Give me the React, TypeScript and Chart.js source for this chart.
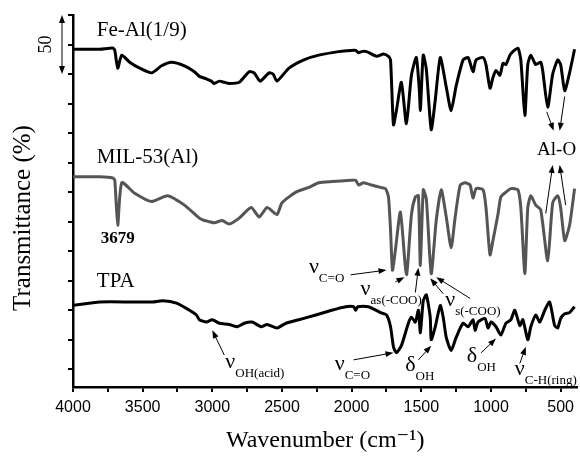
import React, { useEffect, useRef } from 'react';
import { Chart, registerables } from 'chart.js';

Chart.register(...registerables);

// ---------- data (wavenumber in cm-1, offset transmittance) ----------
const feAlWn = [4000, 3807, 3714, 3700, 3679, 3650, 3593, 3521, 3436, 3364, 3293, 3200, 3129, 3093, 3043, 3007, 2986, 2950, 2914, 2879, 2807, 2736, 2700, 2657, 2593, 2564, 2536, 2450, 2343, 2236, 2093, 2007, 1971, 1950, 1929, 1893, 1821, 1771, 1736, 1721, 1700, 1679, 1643, 1607, 1571, 1536, 1514, 1507, 1500, 1486, 1464, 1429, 1400, 1364, 1321, 1286, 1250, 1200, 1164, 1129, 1107, 1057, 1036, 1007, 986, 964, 936, 914, 893, 864, 843, 807, 786, 757, 736, 714, 679, 643, 629, 593, 557, 521, 500, 471, 436, 400];
const feAlT = [271, 271, 272, 270, 255, 266, 260, 255, 251, 257, 260, 257, 252, 248, 246, 244, 242, 244, 243, 242, 243, 252, 251, 244, 251, 250, 244, 255, 262, 266, 269, 270, 270, 268, 269, 269, 265, 267, 265, 262, 207, 219, 243, 208, 249, 264, 236, 219, 236, 266, 254, 203, 228, 264, 239, 219, 240, 262, 264, 252, 262, 264, 258, 238, 247, 253, 249, 259, 258, 266, 269, 272, 262, 215, 258, 266, 258, 260, 253, 222, 250, 262, 258, 236, 251, 271];

const milWn = [4000, 3807, 3714, 3700, 3679, 3650, 3557, 3436, 3321, 3200, 3093, 3057, 3021, 2986, 2929, 2879, 2807, 2721, 2664, 2607, 2536, 2500, 2400, 2307, 2236, 2143, 2007, 1971, 1950, 1914, 1857, 1793, 1757, 1736, 1721, 1707, 1686, 1650, 1607, 1571, 1543, 1521, 1507, 1486, 1464, 1429, 1393, 1357, 1321, 1286, 1257, 1221, 1186, 1150, 1129, 1107, 1057, 1036, 1007, 986, 950, 929, 893, 857, 807, 786, 757, 736, 714, 679, 643, 593, 557, 521, 500, 471, 436, 400];
const milT = [163, 163, 162, 160, 122, 158, 149, 142, 147, 139, 128, 126, 125, 124, 126, 123, 128, 137, 129, 137, 131, 141, 150, 154, 158, 159, 160, 160, 156, 158, 156, 154, 153, 146, 118, 84, 101, 133, 80, 131, 146, 147, 88, 152, 144, 81, 126, 152, 129, 103, 129, 156, 158, 156, 145, 153, 152, 137, 97, 109, 131, 146, 150, 153, 152, 137, 81, 137, 147, 139, 135, 92, 141, 147, 137, 109, 122, 153];

const tpaWn = [4000, 3807, 3571, 3429, 3357, 3257, 3164, 3114, 3093, 3043, 3000, 2950, 2879, 2821, 2771, 2714, 2650, 2607, 2536, 2471, 2379, 2257, 2143, 2043, 1986, 1971, 1957, 1879, 1793, 1750, 1721, 1700, 1679, 1643, 1593, 1571, 1543, 1521, 1507, 1486, 1464, 1436, 1429, 1400, 1364, 1343, 1321, 1286, 1250, 1200, 1164, 1129, 1114, 1093, 1043, 1021, 1000, 964, 929, 893, 857, 829, 793, 771, 736, 714, 679, 650, 614, 579, 543, 521, 500, 471, 436, 400];
const tpaT = [54, 57, 57, 57, 58, 56, 50, 46, 42, 40, 42, 39, 38, 36, 39, 40, 36, 38, 35, 39, 42, 46, 50, 53, 53, 50, 53, 53, 48, 46, 36, 19, 14, 20, 39, 44, 40, 50, 31, 58, 63, 44, 25, 36, 54, 44, 27, 16, 27, 39, 36, 42, 33, 40, 43, 35, 40, 36, 29, 39, 42, 50, 37, 42, 25, 36, 46, 40, 50, 57, 37, 35, 43, 47, 48, 53];

const seriesNames = ['Fe-Al(1/9)', 'MIL-53(Al)', 'TPA'];
const seriesColors = ['#000000', '#555555', '#000000'];

const xTickValues = [4000, 3750, 3500, 3250, 3000, 2750, 2500, 2250, 2000, 1750, 1500, 1250, 1000, 750, 500];
const xLabelValues = [4000, 3500, 3000, 2500, 2000, 1500, 1000, 500];
const yTickValues = [0, 25, 50, 75, 100, 125, 150, 175, 200, 225, 250, 275, 300];

// series name labels placed in data coordinates
const seriesLabelPos = [
  { wn: 3829, v: 287 },
  { wn: 3829, v: 179 },
  { wn: 3829, v: 74 },
];

// band assignments: glyph, subscript, text position, arrows [fromWn, fromV, toWn, toV]
const bandLabels = [
  { main: 'ν', sub: 'C=O', wn: 2271, v: 86, arrows: [[2007, 80, 1750, 84]] },
  { main: 'ν', sub: 'as(-COO)', wn: 1900, v: 67, arrows: [[1686, 74, 1621, 78], [1543, 65, 1521, 86]] },
  { main: 'ν', sub: 's(-COO)', wn: 1293, v: 58, arrows: [[1343, 64, 1436, 77], [1150, 60, 1393, 78]] },
  { main: 'ν', sub: 'OH(acid)', wn: 2871, v: 5, arrows: [[2914, 12, 3000, 33]] },
  { main: 'ν', sub: 'C=O', wn: 2086, v: 4, arrows: [[1986, 8, 1700, 14]] },
  { main: 'δ', sub: 'OH', wn: 1579, v: 3, arrows: [[1521, 8, 1429, 20]] },
  { main: 'δ', sub: 'OH', wn: 1136, v: 10, arrows: [[1071, 14, 964, 26]] },
  { main: 'ν', sub: 'C-H(ring)', wn: 793, v: -1, arrows: [[793, 5, 750, 19]] },
];

const alOLabel = { text: 'Al-O', wn: 529, v: 186 };
const alOArrows = [
  [600, 218, 550, 202],
  [471, 231, 507, 202],
  [607, 132, 557, 173],
  [464, 139, 507, 173],
];
const peakLabel = { text: '3679', wn: 3679, v: 111 };
const scaleBar = { from: 250, to: 300, text: '50' };

const SERIF = '"Liberation Serif", "Times New Roman", "DejaVu Serif", serif';
const SANS = '"Liberation Sans", Arial, sans-serif';

function drawArrow(ctx: CanvasRenderingContext2D, x1: number, y1: number, x2: number, y2: number) {
  const ang = Math.atan2(y2 - y1, x2 - x1);
  const len = 8;
  const hw = 3;
  ctx.beginPath();
  ctx.moveTo(x1, y1);
  ctx.lineTo(x2 - Math.cos(ang) * len * 0.8, y2 - Math.sin(ang) * len * 0.8);
  ctx.stroke();
  ctx.beginPath();
  ctx.moveTo(x2, y2);
  ctx.lineTo(x2 - Math.cos(ang) * len - Math.sin(ang) * hw, y2 - Math.sin(ang) * len + Math.cos(ang) * hw);
  ctx.lineTo(x2 - Math.cos(ang) * len + Math.sin(ang) * hw, y2 - Math.sin(ang) * len - Math.cos(ang) * hw);
  ctx.closePath();
  ctx.fill();
}

const overlayPlugin = {
  id: 'overlay',
  afterDraw(chart: any) {
    const ctx: CanvasRenderingContext2D = chart.ctx;
    const xs = chart.scales.x;
    const ys = chart.scales.y;
    const X = (w: number) => xs.getPixelForValue(w);
    const Y = (v: number) => ys.getPixelForValue(v);
    const area = chart.chartArea;
    ctx.save();
    ctx.fillStyle = '#000';
    ctx.strokeStyle = '#000';

    // series names
    ctx.font = `21px ${SERIF}`;
    ctx.textAlign = 'left';
    ctx.textBaseline = 'middle';
    seriesNames.forEach((n, i) => {
      ctx.fillText(n, X(seriesLabelPos[i].wn), Y(seriesLabelPos[i].v));
    });

    // peak label
    ctx.font = `bold 17px ${SERIF}`;
    ctx.textAlign = 'center';
    ctx.fillText(peakLabel.text, X(peakLabel.wn), Y(peakLabel.v));

    // band labels
    ctx.lineWidth = 1;
    bandLabels.forEach((b) => {
      const cx = X(b.wn);
      const base = Y(b.v) + 5;
      ctx.font = `22px ${SERIF}`;
      ctx.textAlign = 'center';
      ctx.textBaseline = 'alphabetic';
      const w = ctx.measureText(b.main).width;
      ctx.fillText(b.main, cx, base);
      ctx.font = `13px ${SERIF}`;
      ctx.textAlign = 'left';
      ctx.fillText(b.sub, cx + w / 2, base + 9);
      b.arrows.forEach((a) => drawArrow(ctx, X(a[0]), Y(a[1]), X(a[2]), Y(a[3])));
    });

    // Al-O
    ctx.font = `19px ${SERIF}`;
    ctx.textAlign = 'center';
    ctx.textBaseline = 'middle';
    ctx.fillText(alOLabel.text, X(alOLabel.wn), Y(alOLabel.v));
    alOArrows.forEach((a) => drawArrow(ctx, X(a[0]), Y(a[1]), X(a[2]), Y(a[3])));

    // scale bar
    const bx = area.left - 11;
    const yTop = Y(scaleBar.to);
    const yBot = Y(scaleBar.from);
    ctx.lineWidth = 1;
    drawArrow(ctx, bx, (yTop + yBot) / 2, bx, yTop);
    drawArrow(ctx, bx, (yTop + yBot) / 2, bx, yBot);
    ctx.save();
    ctx.translate(bx - 16, (yTop + yBot) / 2);
    ctx.rotate(-Math.PI / 2);
    ctx.font = `18px ${SERIF}`;
    ctx.textAlign = 'center';
    ctx.textBaseline = 'middle';
    ctx.fillText(scaleBar.text, 0, 0);
    ctx.restore();

    // y axis title
    ctx.save();
    ctx.translate(23, 218);
    ctx.rotate(-Math.PI / 2);
    ctx.font = `25px ${SERIF}`;
    ctx.textAlign = 'center';
    ctx.textBaseline = 'middle';
    ctx.fillText('Transmittance (%)', 0, 0);
    ctx.restore();

    ctx.restore();
  },
};

export default function App() {
  const ref = useRef<HTMLCanvasElement | null>(null);
  useEffect(() => {
    if (!ref.current) return;
    const series = [
      [feAlWn, feAlT],
      [milWn, milT],
      [tpaWn, tpaT],
    ];
    const chart = new Chart(ref.current, {
      type: 'line',
      data: {
        datasets: series.map(([wn, t], i) => ({
          label: seriesNames[i],
          data: wn.map((w, j) => ({ x: w, y: t[j] })),
          borderColor: seriesColors[i],
          borderWidth: 3,
          pointRadius: 0,
          fill: false,
          tension: 0.2,
        })),
      },
      options: {
        animation: false,
        responsive: true,
        maintainAspectRatio: false,
        layout: { padding: { top: 15, right: 0, left: 0, bottom: 0 } },
        plugins: { legend: { display: false }, tooltip: { enabled: false }, title: { display: false } },
        scales: {
          x: {
            type: 'linear',
            reverse: true,
            min: 380,
            max: 4000,
            afterFit: (s: any) => { s.height = 70; },
            afterBuildTicks: (s: any) => { s.ticks = xTickValues.map((v) => ({ value: v })); },
            ticks: {
              autoSkip: false,
              maxRotation: 0,
              padding: 6,
              color: '#000',
              font: { family: SANS, size: 16 },
              callback: (v: any) => (xLabelValues.includes(Number(v)) ? String(v) : ''),
            },
            grid: { drawOnChartArea: false, drawTicks: true, tickLength: 5, color: '#000', lineWidth: 2 },
            border: { display: true, color: '#000', width: 2.5 },
            title: {
              display: true,
              text: 'Wavenumber (cm⁻¹)',
              color: '#000',
              font: { family: SERIF, size: 24 },
              padding: { top: 0, bottom: 2 },
            },
          },
          y: {
            type: 'linear',
            min: -15,
            max: 300,
            afterFit: (s: any) => { s.width = 73; },
            afterBuildTicks: (s: any) => { s.ticks = yTickValues.map((v) => ({ value: v })); },
            ticks: { display: false },
            grid: { drawOnChartArea: false, drawTicks: true, tickLength: 5, color: '#000', lineWidth: 2 },
            border: { display: true, color: '#000', width: 2.5 },
            title: { display: false },
          },
        },
      },
      plugins: [overlayPlugin],
    } as any);
    return () => chart.destroy();
  }, []);
  return (
    <div style={{ position: 'fixed', left: 0, top: 0, width: 580, height: 457, background: '#fff' }}>
      <canvas ref={ref} />
    </div>
  );
}
